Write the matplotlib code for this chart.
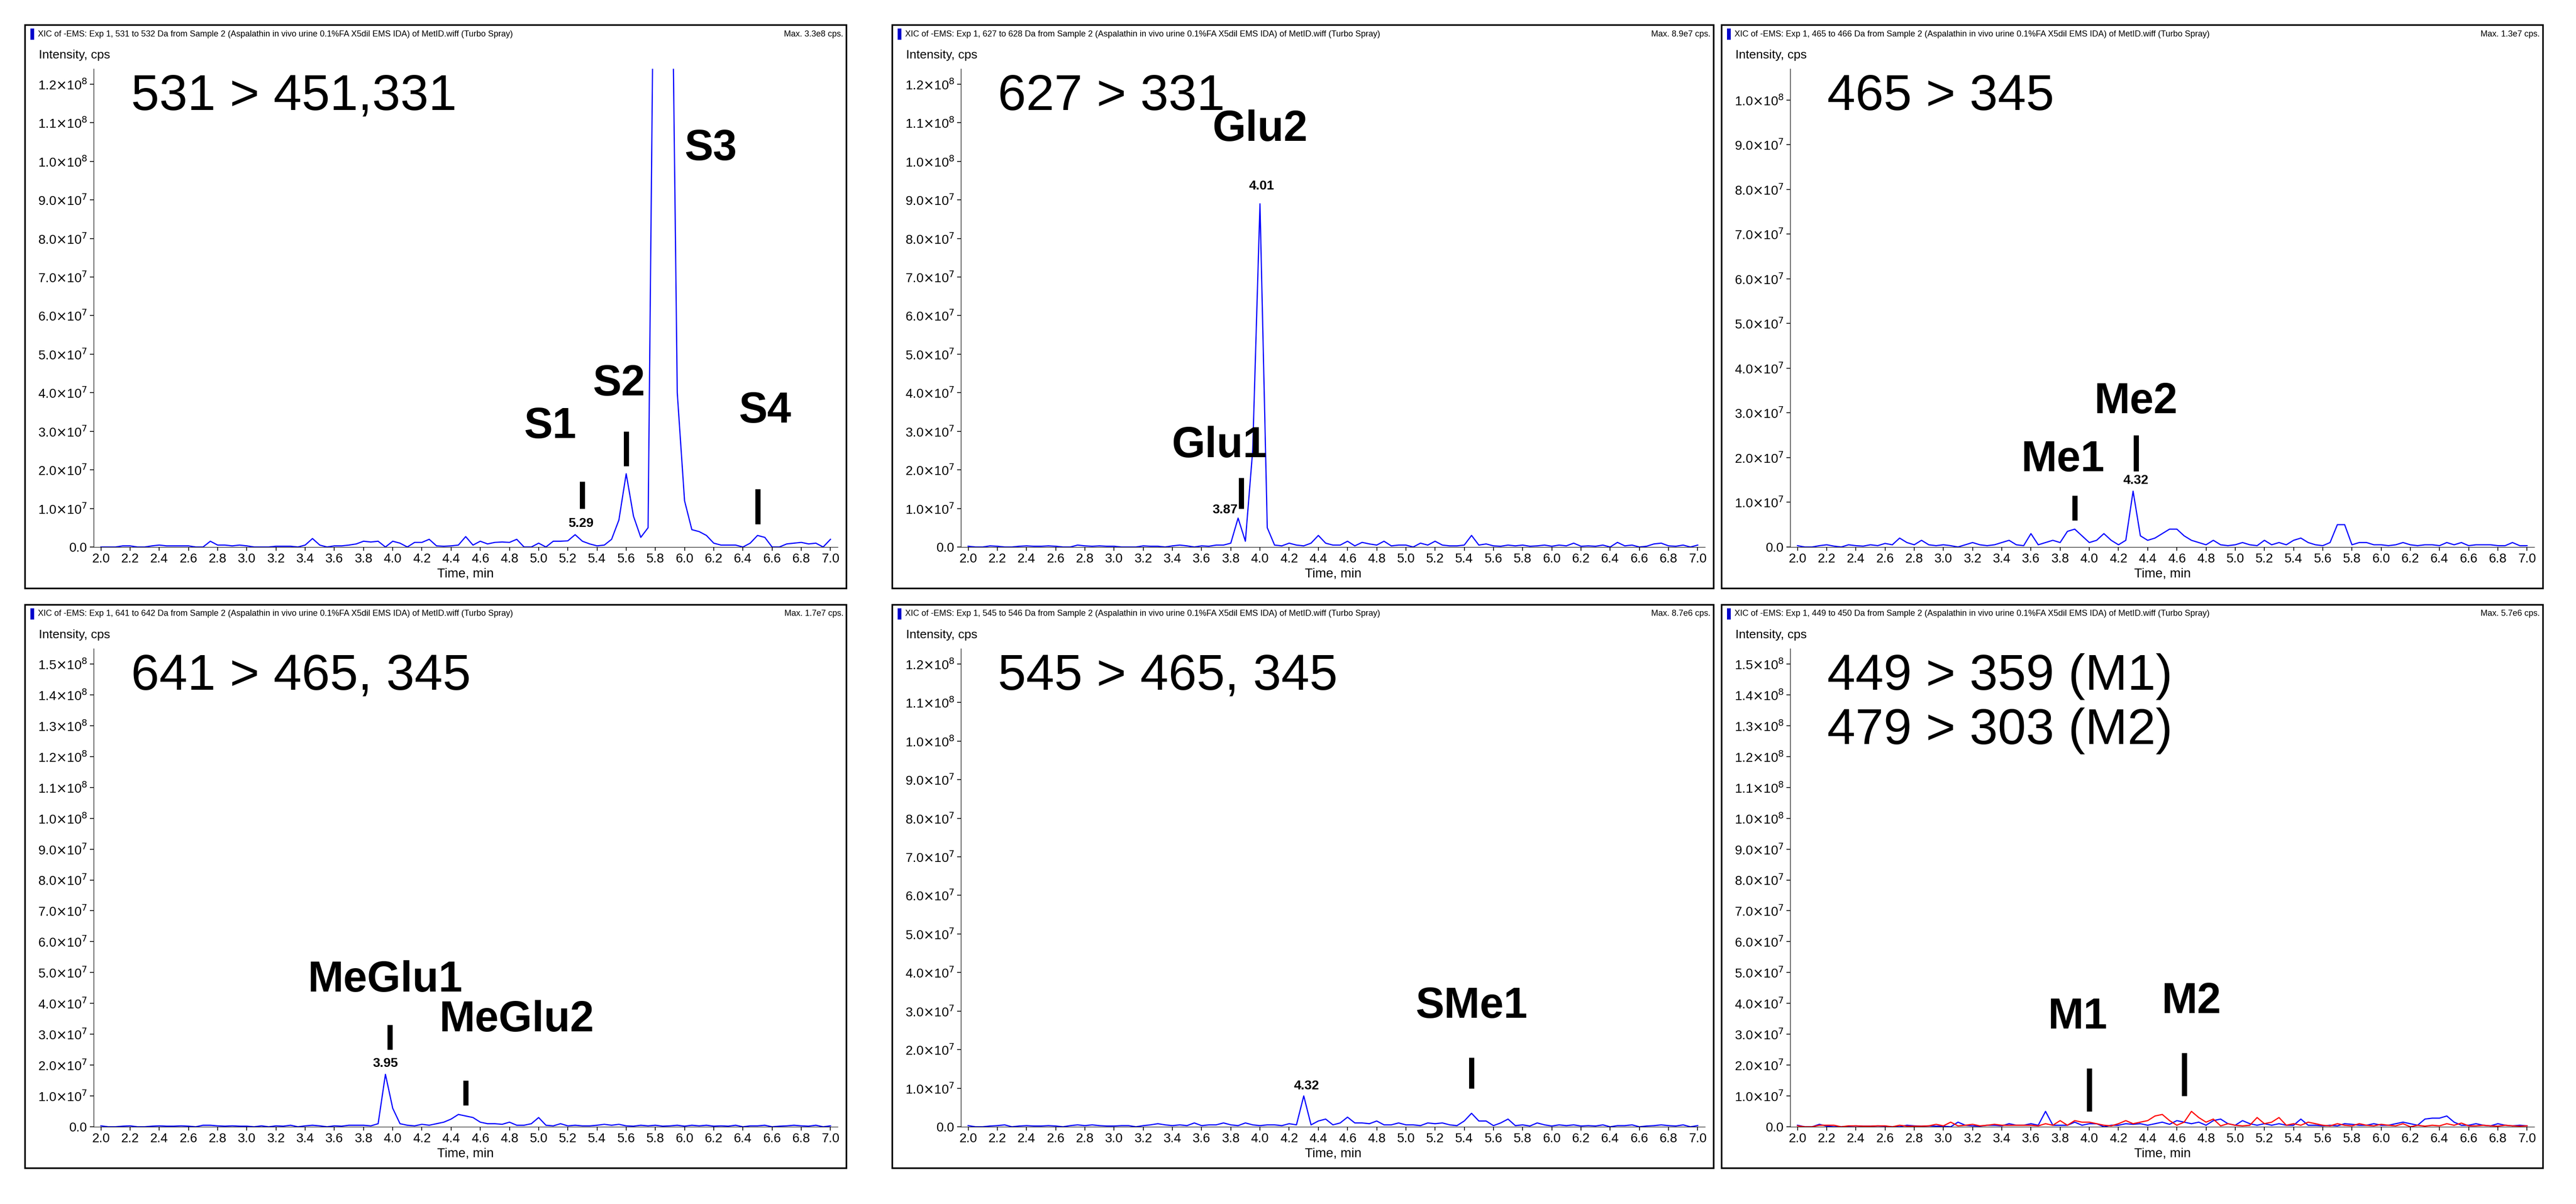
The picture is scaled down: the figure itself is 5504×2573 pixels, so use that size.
import matplotlib
matplotlib.use('Agg')
import matplotlib.pyplot as plt
from matplotlib.patches import Rectangle
import numpy as np

plt.rcParams['font.family'] = ['Liberation Sans Narrow', 'Liberation Sans', 'DejaVu Sans']

# sampling grid: 2.00 .. 7.00 min every 0.05 min (101 scans)
time = np.round(np.arange(2.0, 7.001, 0.05), 2)

# intensities in units of 1e6 cps, 10 scans per row (0.5 min)
s531 = [0, 0, 0, 0.3, 0.3, 0, 0, 0.3, 0.5, 0.3,
        0.3, 0.3, 0.3, 0, 0, 1.5, 0.5, 0.5, 0.3, 0.5,
        0.3, 0, 0, 0, 0.2, 0.2, 0.2, 0, 0.5, 2.2,
        0.5, 0, 0.3, 0.3, 0.5, 0.8, 1.5, 1.3, 1.5, 0,
        1.5, 1.0, 0, 1.2, 1.2, 2.0, 0.3, 0.2, 0.3, 0.5,
        2.7, 0.5, 1.5, 0.8, 1.2, 1.3, 1.2, 2.0, 0, 0,
        1.0, 0, 1.5, 1.5, 1.6, 3.2, 1.5, 0.8, 0.3, 0.5,
        2.0, 7.0, 19.0, 8.0, 2.5, 5.0, 200, 330, 200, 40,
        12, 4.5, 4.0, 3.0, 1.0, 0.5, 0.5, 0.5, 0, 1.0,
        3.0, 2.5, 0, 0, 0.8, 1.0, 1.2, 0.8, 1.0, 0,
        2.0]
s627 = [0.2, 0, 0, 0.3, 0.2, 0, 0, 0.2, 0.3, 0.2,
        0.2, 0.3, 0.2, 0, 0, 0.5, 0.3, 0.2, 0.3, 0.2,
        0.2, 0, 0, 0, 0.3, 0.2, 0.2, 0, 0.3, 0.5,
        0.3, 0, 0.3, 0.2, 0.5, 0.5, 1.0, 7.5, 1.5, 25,
        89, 5.0, 0.5, 0.3, 1.0, 0.5, 0.3, 1.0, 3.0, 1.0,
        0.5, 0.5, 1.5, 0.3, 1.2, 0.8, 0.5, 1.5, 0.3, 0.5,
        0.5, 0, 1.0, 0.5, 1.5, 0.5, 0.3, 0.3, 0.5, 3.0,
        0.5, 0.8, 0.3, 0.2, 0.5, 0.3, 0.5, 0.2, 0.3, 0.5,
        0.2, 0.5, 0.3, 1.0, 0.2, 0.3, 0.2, 0.5, 0, 1.2,
        0.3, 0.5, 0, 0.2, 0.8, 1.0, 0.3, 0.2, 0.5, 0,
        0.5]
s465 = [0.3, 0, 0, 0.3, 0.5, 0.2, 0, 0.5, 0.3, 0.2,
        0.5, 0.3, 0.8, 0.5, 2.0, 1.0, 0.5, 1.5, 0.5, 0.3,
        0.5, 0.3, 0, 0.5, 1.0, 0.5, 0.3, 0.5, 1.0, 1.5,
        0.5, 0.3, 3.0, 0.5, 1.0, 1.5, 1.0, 3.5, 4.0, 2.5,
        1.0, 1.5, 3.0, 1.5, 0.5, 1.5, 12.5, 2.5, 1.5, 2.0,
        3.0, 4.0, 4.0, 2.5, 1.5, 1.0, 0.5, 1.5, 0.5, 0.3,
        0.5, 1.0, 0.5, 0.3, 1.5, 0.5, 1.0, 0.5, 1.5, 2.0,
        1.0, 0.5, 0.3, 1.0, 5.0, 5.0, 0.5, 1.0, 1.0, 0.5,
        0.5, 0.3, 0.5, 1.0, 0.5, 0.3, 0.5, 0.5, 0.3, 1.0,
        0.5, 1.0, 0.3, 0.5, 0.5, 0.5, 0.3, 0.3, 1.0, 0.3,
        0.3]
s641 = [0.3, 0, 0, 0.2, 0.3, 0, 0, 0.2, 0.3, 0.2,
        0.2, 0.3, 0.2, 0, 0.5, 0.5, 0.3, 0.2, 0.3, 0.2,
        0.2, 0, 0.3, 0, 0.3, 0.2, 0.5, 0, 0.3, 0.5,
        0.3, 0, 0.3, 0.2, 0.5, 0.5, 0.5, 0.3, 1.0, 17,
        6.0, 1.0, 0.5, 0.3, 0.8, 0.5, 1.0, 1.5, 2.5, 4.0,
        3.5, 3.0, 1.5, 1.0, 1.0, 0.8, 1.5, 0.5, 0.5, 1.0,
        3.0, 0.5, 0.3, 1.0, 0.3, 0.5, 0.3, 0.3, 0.5, 0.8,
        0.5, 0.8, 0.3, 0.2, 0.5, 0.3, 0.5, 0.2, 0.3, 0.5,
        0.2, 0.5, 0.3, 0.5, 0.2, 0.3, 0.2, 0.5, 0, 0.3,
        0.3, 0.5, 0, 0.2, 0.3, 0.5, 0.3, 0.2, 0.5, 0,
        0.3]
s545 = [0.3, 0, 0, 0.2, 0.3, 0.5, 0, 0.2, 0.3, 0.2,
        0.2, 0.3, 0.2, 0, 0.3, 0.5, 0.3, 0.5, 0.3, 0.2,
        0.2, 0.3, 0.3, 0, 0.3, 0.5, 0.8, 0.5, 0.3, 0.5,
        0.3, 1.0, 0.3, 0.5, 0.5, 1.0, 0.5, 0.3, 1.0, 0.5,
        0.3, 0.5, 0.5, 0.3, 0.8, 0.5, 8.0, 0.5, 1.5, 2.0,
        0.5, 1.0, 2.5, 1.0, 1.0, 0.8, 1.5, 0.5, 0.5, 1.0,
        0.5, 0.5, 0.3, 1.0, 0.8, 1.0, 0.5, 0.3, 1.5, 3.5,
        1.5, 1.5, 0.3, 1.0, 2.0, 0.3, 0.5, 0.2, 1.0, 0.5,
        0.2, 0.5, 0.3, 0.5, 0.2, 0.3, 0.2, 0.5, 0, 0.3,
        0.3, 0.5, 0, 0.2, 0.3, 0.5, 0.3, 0.2, 0.5, 0,
        0.3]
s449 = [0.5, 0, 0, 0.8, 0.2, 0, 0, 0.2, 0.3, 0.2,
        0.2, 0.3, 0.2, 0, 0, 0.5, 0.3, 0.2, 0.3, 0.2,
        0.2, 0, 1.5, 0.5, 0.3, 0.2, 0.5, 0.5, 0.3, 1.0,
        0.5, 0.5, 1.0, 0.5, 5.0, 0.5, 0.5, 0.5, 1.5, 0.5,
        1.0, 1.0, 0, 0.5, 0.5, 1.0, 0.8, 1.0, 0.5, 1.0,
        1.5, 0.8, 2.0, 1.5, 1.0, 1.5, 0.5, 2.0, 2.5, 1.0,
        0.5, 2.0, 1.0, 0.5, 1.0, 0.5, 1.0, 0.5, 0.5, 2.5,
        0.5, 0.5, 0.3, 0.5, 0.3, 1.0, 0.8, 0.5, 0.5, 1.0,
        0.5, 0.5, 1.0, 1.5, 1.0, 0.5, 2.5, 2.8, 2.8, 3.5,
        1.5, 0.5, 0.5, 1.0, 0.5, 0.3, 1.0, 0.5, 0.3, 0.5,
        0.3]
s479 = [0.3, 0, 0, 0.5, 0.5, 0.5, 0, 0.3, 0.3, 0.2,
        0.2, 0.3, 0.3, 0, 0.5, 0.2, 0.2, 0.2, 0.3, 0.8,
        0.3, 1.5, 0.3, 0.5, 0.8, 0.3, 0.5, 0.8, 0.5, 0.5,
        0.5, 0.5, 0.5, 0.3, 1.0, 0.5, 2.0, 0.5, 2.0, 1.5,
        1.5, 1.0, 0.5, 0.3, 1.0, 2.0, 1.0, 1.5, 2.0, 3.5,
        4.0, 2.0, 0.5, 1.5, 5.0, 3.0, 1.5, 2.5, 0.3, 1.0,
        0.5, 0.3, 0.5, 3.0, 1.0, 1.5, 3.0, 0.5, 1.0, 0.5,
        1.5, 1.0, 0.5, 0.3, 1.0, 0.5, 0.3, 1.0, 0.5, 0.3,
        0.8, 0.5, 0.3, 1.0, 0, 0.5, 0.2, 0.5, 0.3, 1.0,
        0.5, 1.2, 0.3, 0.3, 0.5, 0.3, 0.2, 0.5, 0.3, 0.2,
        0.3]

titles = ["XIC of -EMS: Exp 1, 531 to 532 Da from Sample 2 (Aspalathin in vivo urine 0.1%FA X5dil EMS IDA) of MetID.wiff (Turbo Spray)",
          "XIC of -EMS: Exp 1, 627 to 628 Da from Sample 2 (Aspalathin in vivo urine 0.1%FA X5dil EMS IDA) of MetID.wiff (Turbo Spray)",
          "XIC of -EMS: Exp 1, 465 to 466 Da from Sample 2 (Aspalathin in vivo urine 0.1%FA X5dil EMS IDA) of MetID.wiff (Turbo Spray)",
          "XIC of -EMS: Exp 1, 641 to 642 Da from Sample 2 (Aspalathin in vivo urine 0.1%FA X5dil EMS IDA) of MetID.wiff (Turbo Spray)",
          "XIC of -EMS: Exp 1, 545 to 546 Da from Sample 2 (Aspalathin in vivo urine 0.1%FA X5dil EMS IDA) of MetID.wiff (Turbo Spray)",
          "XIC of -EMS: Exp 1, 449 to 450 Da from Sample 2 (Aspalathin in vivo urine 0.1%FA X5dil EMS IDA) of MetID.wiff (Turbo Spray)"]
max_texts = ["Max. 3.3e8 cps.", "Max. 8.9e7 cps.", "Max. 1.3e7 cps.",
             "Max. 1.7e7 cps.", "Max. 8.7e6 cps.", "Max. 5.7e6 cps."]
transitions = ["531 > 451,331", "627 > 331", "465 > 345",
               "641 > 465, 345", "545 > 465, 345", "449 > 359 (M1)\n479 > 303 (M2)"]
y_max = [1.24, 1.24, 1.07, 1.55, 1.24, 1.55]   # x 1e8
y_top_tick = [1.2, 1.2, 1.0, 1.5, 1.2, 1.5]
traces = [[s531], [s627], [s465], [s641], [s545], [s449, s479]]
trace_colors = ['#0000ff', '#ff0000']

# peak labels: (text, x, y in 1e6), bars: (x, y0, y1), rt labels: (text, x, y)
peak_labels = [
    [("S1", 5.08, 26), ("S2", 5.55, 37), ("S3", 6.18, 98), ("S4", 6.55, 30)],
    [("Glu2", 4.0, 103), ("Glu1", 3.72, 21)],
    [("Me2", 4.32, 28), ("Me1", 3.82, 15)],
    [("MeGlu1", 3.95, 41), ("MeGlu2", 4.85, 28)],
    [("SMe1", 5.45, 26)],
    [("M1", 3.92, 29), ("M2", 4.7, 34)],
]
bars = [
    [(5.3, 10, 17), (5.6, 21, 30), (6.5, 6, 15)],
    [(3.87, 10, 18)],
    [(4.32, 17, 25), (3.9, 6, 11.5)],
    [(3.98, 25, 33), (4.5, 7, 15)],
    [(5.45, 10, 18)],
    [(4.0, 5, 19), (4.65, 10, 24)],
]
rt_labels = [
    [("5.29", 5.29, 4.5)],
    [("4.01", 4.01, 92), ("3.87", 3.76, 8)],
    [("4.32", 4.32, 13.5)],
    [("3.95", 3.95, 18.5)],
    [("4.32", 4.32, 9)],
    [],
]

W, H = 5504, 2573
fig = plt.figure(figsize=(W / 100, H / 100), dpi=100)
fig.patch.set_facecolor('white')

col_left = [53, 1906, 3678]
row_top = [53, 1292]
box_w, box_h = 1755, 1204


def ylabel_fmt(v):
    if v == 0:
        return "0.0"
    e = int(np.floor(np.log10(v) + 1e-9))
    return r"%.1f$\times$10$^{%d}$" % (v / 10 ** e, e)


for k in range(6):
    bx = col_left[k % 3]
    by = row_top[k // 3]
    # outer box
    fig.patches.append(Rectangle((bx / W, 1 - (by + box_h) / H), box_w / W, box_h / H,
                                 transform=fig.transFigure, fill=False, ec='black', lw=2.5))
    fig.patches.append(Rectangle(((bx + 12) / W, 1 - (by + 32) / H), 8 / W, 24 / H,
                                 transform=fig.transFigure, fc='#0000cc', ec='none'))
    fig.text((bx + 28) / W, 1 - (by + 20) / H, titles[k], fontsize=13, va='center', ha='left')
    fig.text((bx + box_w - 6) / W, 1 - (by + 20) / H, max_texts[k], fontsize=13, va='center', ha='right')
    fig.text((bx + 30) / W, 1 - (by + 65) / H, "Intensity, cps", fontsize=19, va='center', ha='left')

    ax = fig.add_axes([(bx + 147) / W, 1 - (by + box_h - 88) / H,
                       (box_w - 165) / W, (box_h - 182) / H])
    for n, s in enumerate(traces[k]):
        ax.plot(time, np.array(s) * 1e6, color=trace_colors[n], lw=1.8, clip_on=True)
    ax.set_xlim(1.95, 7.05)
    ax.set_ylim(0, y_max[k] * 1e8)
    ax.spines['top'].set_visible(False)
    ax.spines['right'].set_visible(False)
    xt = np.round(np.arange(2.0, 7.001, 0.2), 1)
    ax.set_xticks(xt)
    ax.set_xticklabels(["%.1f" % v for v in xt], fontsize=20)
    yt = np.arange(0, y_top_tick[k] * 1e8 + 1, 1e7)
    ax.set_yticks(yt)
    ax.set_yticklabels([ylabel_fmt(v) for v in yt], fontsize=20)
    ax.tick_params(length=6, width=1.2)
    ax.set_xlabel("Time, min", fontsize=20, labelpad=4)

    ax.text(0.05, 0.99, transitions[k], transform=ax.transAxes, fontsize=78,
            va='top', ha='left', linespacing=1.2)
    for txt, x, y in peak_labels[k]:
        ax.text(x, y * 1e6, txt, fontsize=66, fontweight='bold', ha='center', va='bottom')
    for x, y0, y1 in bars[k]:
        ax.plot([x, x], [y0 * 1e6, y1 * 1e6], color='black', lw=8, solid_capstyle='butt')
    for txt, x, y in rt_labels[k]:
        ax.text(x, y * 1e6, txt, fontsize=20, fontweight='bold', ha='center', va='bottom')

fig.savefig('out.png', dpi=100, facecolor='white')
